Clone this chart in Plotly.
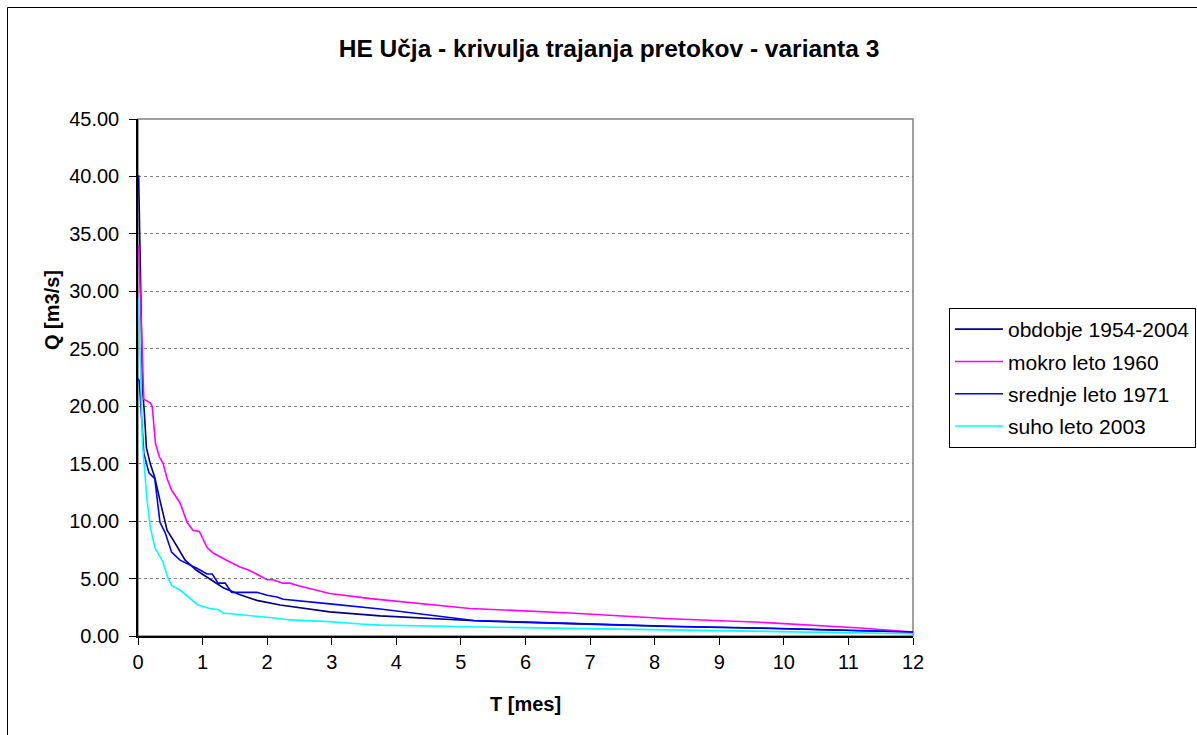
import plotly.graph_objects as go

# ---- data ----
T_obdobje = [0.01, 0.07, 0.10, 0.13, 0.19, 0.26, 0.34, 0.45, 0.54, 0.73, 0.91, 1.11, 1.32, 1.58,
             1.84, 2.20, 2.46, 2.97, 3.75, 4.37, 5.14, 5.30, 6.69, 8.24, 9.63, 11.20, 12.00]
Q_obdobje = [40.1, 21.6, 19.3, 16.4, 15.0, 13.8, 11.8, 9.2, 8.4, 6.6, 5.7, 5.0, 4.2, 3.6,
             3.1, 2.7, 2.5, 2.1, 1.75, 1.55, 1.3, 1.3, 1.08, 0.83, 0.68, 0.48, 0.35]

T_mokro = [0.00, 0.01, 0.09, 0.19, 0.22, 0.27, 0.33, 0.39, 0.45, 0.52, 0.65, 0.76, 0.85, 0.95,
           1.07, 1.17, 1.37, 1.47, 1.58, 1.73, 2.00, 2.09, 2.24, 2.35, 2.50, 2.97, 3.60, 5.14,
           6.69, 8.24, 9.63, 11.18, 12.00]
Q_mokro = [34.0, 33.9, 20.6, 20.3, 20.0, 16.8, 15.6, 15.0, 13.7, 12.7, 11.6, 9.9, 9.2, 9.1,
           7.7, 7.2, 6.6, 6.3, 6.0, 5.7, 4.9, 4.9, 4.6, 4.6, 4.35, 3.7, 3.25, 2.4,
           2.0, 1.5, 1.2, 0.7, 0.35]

T_srednje = [0.00, 0.02, 0.09, 0.17, 0.26, 0.34, 0.42, 0.52, 0.65, 0.77, 0.91, 1.07, 1.15, 1.24,
             1.35, 1.45, 1.84, 2.00, 2.15, 2.25, 2.46, 2.97, 3.75, 4.37, 5.20, 6.69, 8.24, 9.63,
             11.20, 12.00]
Q_srednje = [22.4, 22.2, 15.9, 14.2, 13.7, 9.9, 9.0, 7.3, 6.6, 6.3, 5.9, 5.4, 5.4, 4.6,
             4.6, 3.8, 3.8, 3.55, 3.4, 3.2, 3.1, 2.8, 2.35, 1.9, 1.35, 1.1, 0.85, 0.7,
             0.5, 0.35]

T_suho = [0.00, 0.01, 0.07, 0.12, 0.14, 0.19, 0.26, 0.34, 0.39, 0.46, 0.52, 0.65, 0.80, 0.93,
          1.11, 1.24, 1.32, 1.53, 1.69, 1.94, 2.15, 2.35, 2.97, 3.44, 3.75, 5.14, 8.24, 12.00]
Q_suho = [29.4, 29.3, 16.7, 13.5, 11.8, 9.5, 7.7, 6.9, 6.4, 5.1, 4.4, 4.0, 3.3, 2.7,
          2.4, 2.3, 2.0, 1.9, 1.8, 1.65, 1.55, 1.4, 1.25, 1.05, 0.95, 0.8, 0.5, 0.2]

series_names = ["obdobje 1954-2004", "mokro leto 1960", "srednje leto 1971", "suho leto 2003"]
series_colors = ["#000080", "#FF00FF", "#0000FF", "#00FFFF"]
series_T = [T_obdobje, T_mokro, T_srednje, T_suho]
series_Q = [Q_obdobje, Q_mokro, Q_srednje, Q_suho]

title_text = "HE Učja - krivulja trajanja pretokov - varianta 3"
x_title = "T [mes]"
y_title = "Q [m3/s]"

FONT = "Liberation Sans, Arial, sans-serif"

fig = go.Figure()
for i, (name, col, t, q) in enumerate(zip(series_names, series_colors, series_T, series_Q)):
    fig.add_trace(go.Scatter(x=t, y=q, mode="lines", name=name,
                             line=dict(color=col, width=1.6),
                             legendgroup=f"g{i}"))

W, H = 1197, 735
L, R, Tm, B = 138, 284, 119, 99
pw, ph = W - L - R, H - Tm - B

def px2x(px):
    return (px - L) / pw

def py2y(py):
    return 1 - (py - Tm) / ph

fig.update_layout(
    width=W, height=H,
    margin=dict(l=L, r=R, t=Tm, b=B, autoexpand=False),
    paper_bgcolor="white", plot_bgcolor="white",
    font=dict(family=FONT, size=20, color="black"),
    title=dict(text=f"<b>{title_text}</b>", x=609 / W, xref="container", xanchor="center",
               y=1 - 48 / H, yref="container", yanchor="middle",
               font=dict(family=FONT, size=24.5, color="black")),
    showlegend=True,
    legend=dict(x=px2x(949), y=py2y(308), xanchor="left", yanchor="top",
                bordercolor="black", borderwidth=1, bgcolor="white",
                font=dict(family=FONT, size=21, color="black"),
                itemwidth=48,
                traceorder="grouped", tracegroupgap=2),
    xaxis=dict(range=[0, 12], dtick=1, tick0=0, showgrid=False, zeroline=False,
               showline=True, linecolor="black", linewidth=1.5,
               ticks="outside", ticklen=7, tickcolor="black", tickwidth=1,
               tickfont=dict(family=FONT, size=20, color="black")),
    yaxis=dict(range=[0, 45], dtick=5, tick0=0, tickformat=".2f", showgrid=True,
               gridcolor="#808080", griddash="dot", gridwidth=1, zeroline=False,
               showline=True, linecolor="black", linewidth=1.5,
               ticks="outside", ticklen=7, tickcolor="black", tickwidth=1,
               ticklabelstandoff=6,
               tickfont=dict(family=FONT, size=20, color="black")),
    shapes=[
        dict(type="rect", xref="paper", yref="paper", x0=0, x1=1, y0=0, y1=1,
             line=dict(color="#808080", width=1.5), layer="below"),
        dict(type="rect", xref="paper", yref="paper", x0=px2x(7.5), x1=px2x(1300),
             y0=py2y(800), y1=py2y(7.5), line=dict(color="black", width=1), layer="below"),
    ],
    annotations=[
        dict(text=f"<b>{x_title}</b>", xref="paper", yref="paper", x=0.5, y=py2y(704),
             xanchor="center", yanchor="middle", showarrow=False,
             font=dict(family=FONT, size=20, color="black")),
        dict(text=f"<b>{y_title}</b>", xref="paper", yref="paper", x=px2x(52), y=py2y(310),
             xanchor="center", yanchor="middle", showarrow=False, textangle=-90,
             font=dict(family=FONT, size=20, color="black")),
    ],
)

fig.write_html("out.html")
